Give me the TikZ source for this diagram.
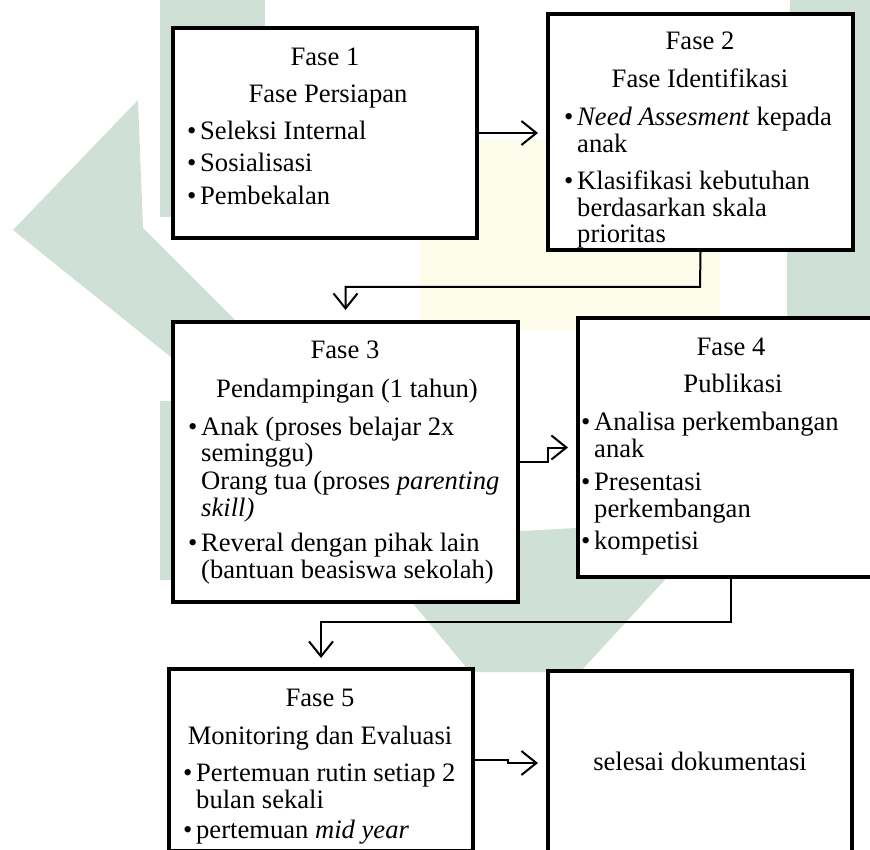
\documentclass[tikz,border=0pt]{standalone}
\usepackage{fontspec}
\setmainfont{Liberation Serif}
\usetikzlibrary{arrows.meta}
\definecolor{wmgreen}{RGB}{207,225,214}
\definecolor{wmyellow}{RGB}{254,252,234}
\newcommand\bl{\makebox[13pt][l]{•}}
\tikzset{
  box/.style={draw=black, line width=4pt, fill=white, inner sep=0pt},
  title/.style={anchor=base, inner sep=0pt, font=\fontsize{26.6}{29}\selectfont},
  item/.style={anchor=base west, inner sep=0pt, font=\fontsize{26.6}{29}\selectfont},
  conn/.style={line width=2pt, -{Straight Barb[length=15pt,width=24pt,line width=2pt]}},
  wm/.style={fill=wmgreen, draw=none},
}
\begin{document}
\begin{tikzpicture}[x=1pt,y=-1pt]
\useasboundingbox (0,0) rectangle (870,850);
\clip (0,0) rectangle (870,850);
\fill[white] (0,0) rectangle (870,850);
% watermark
\fill[wmyellow] (420,140) rectangle (720,330);
\fill[wm] (138,100) -- (13,230) -- (330,485) -- (330,415) -- (143,228) -- cycle;
\fill[wm] (160,0) rectangle (265,217);
\fill[wm] (160,401) rectangle (260,580);
\fill[wm] (360,540) -- (470,672) -- (580,672) -- (720,520) -- cycle;
\fill[wm] (790,0) -- (870,0) -- (870,330) -- (787,330) -- (787,100) -- cycle;
% boxes
\node[box, minimum width=304pt, minimum height=210pt] (f1) at (325,133) {};
\node[box, minimum width=305pt, minimum height=236pt] (f2) at (700.5,132) {};
\node[box, minimum width=345pt, minimum height=280pt] (f3) at (345.5,462) {};
\node[box, minimum width=306pt, minimum height=259pt] (f4) at (731,447.5) {};
\node[box, minimum width=304pt, minimum height=182pt] (f5) at (321,760) {};
\node[box, minimum width=304pt, minimum height=184pt] (f6) at (700,763) {};
% box 1
\node[title] (t1a) at (325,66) {Fase 1};
\node[title] (t1b) at (328,103) {Fase Persiapan};
\node[item] (t1c) at (187,140) {\bl Seleksi Internal};
\node[item] (t1d) at (187,172) {\bl Sosialisasi};
\node[item] (t1e) at (187,205) {\bl Pembekalan};
% box 2
\node[title] (t2a) at (700,50) {Fase 2};
\node[title] (t2b) at (700,88) {Fase Identifikasi};
\node[item] (t2c) at (564,126) {\bl\textit{Need Assesment} kepada};
\node[item] (t2d) at (577,153) {anak};
\node[item] (t2e) at (564,190) {\bl Klasifikasi kebutuhan};
\node[item] (t2f) at (577,217) {berdasarkan skala};
\node[item] (t2g) at (577,243) {prioritas};
% box 3
\node[title] (t3a) at (345,358) {Fase 3};
\node[title] (t3b) at (347,397) {Pendampingan (1 tahun)};
\node[item] (t3c) at (188,435) {\bl Anak (proses belajar 2x};
\node[item] (t3d) at (201,461) {seminggu)};
\node[item] (t3e) at (201,489) {Orang tua (proses \textit{parenting}};
\node[item] (t3f) at (201,516) {\textit{skill)}};
\node[item] (t3g) at (188,551) {\bl Reveral dengan pihak lain};
\node[item] (t3h) at (201,578) {(bantuan beasiswa sekolah)};
% box 4
\node[title] (t4a) at (731,355) {Fase 4};
\node[title] (t4b) at (733,392) {Publikasi};
\node[item] (t4c) at (581,430) {\bl Analisa perkembangan};
\node[item] (t4d) at (594,457) {anak};
\node[item] (t4e) at (581,490) {\bl Presentasi};
\node[item] (t4f) at (594,517) {perkembangan};
\node[item] (t4g) at (581,549) {\bl kompetisi};
% box 5
\node[title] (t5a) at (320,706) {Fase 5};
\node[title] (t5b) at (320,744) {Monitoring dan Evaluasi};
\node[item] (t5c) at (183,781) {\bl Pertemuan rutin setiap 2};
\node[item] (t5d) at (196,808) {bulan sekali};
\node[item] (t5e) at (183,838) {\bl pertemuan \textit{mid year}};
% box 6
\node[title] (t6a) at (700,770) {selesai dokumentasi};
% connectors
\coordinate (b23) at (700,287);
\coordinate (m34) at (548,0);
\coordinate (b45) at (0,622);
\coordinate (m56) at (508,0);
\draw[conn, shorten >=8pt] (f1.east) -- (f2.west |- f1.east);
\draw[conn, shorten >=10pt] (f2.south) -- (b23) -| (f3.north);
\draw[conn, shorten >=8pt] (f3.east) -- (f3.east -| m34) |- (f4.west);
\draw[conn, shorten >=9pt] (f4.south) -- (f4.south |- b45) -| (f5.north);
\draw[conn, shorten >=8pt] (f5.east) -- (f5.east -| m56) |- (f6.west);
\end{tikzpicture}
\end{document}
